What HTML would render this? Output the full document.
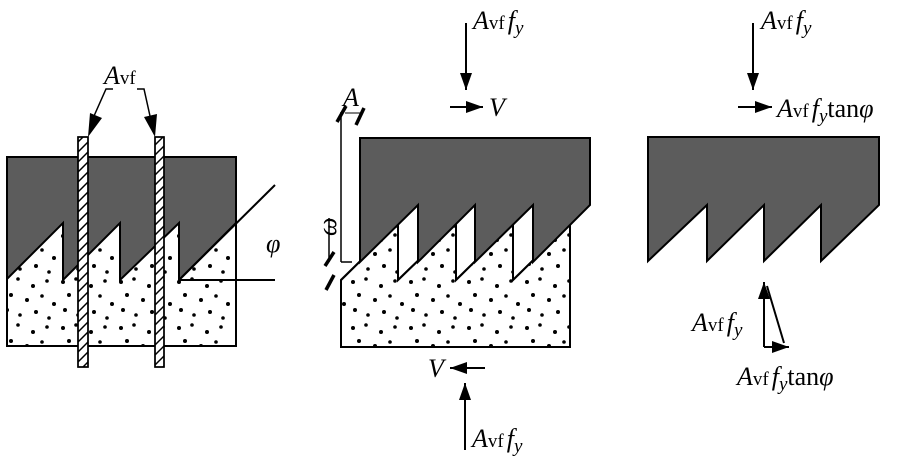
<!DOCTYPE html>
<html><head><meta charset="utf-8"><style>
body{margin:0;background:#fff}
svg{display:block}
text{font-family:"Liberation Serif",serif;font-size:26px}
.i{font-style:italic}
</style></head><body>
<svg width="897" height="463" viewBox="0 0 897 463" xmlns="http://www.w3.org/2000/svg">
<defs>
<pattern id="dots" width="58" height="46" patternUnits="userSpaceOnUse">
<g fill="#000">
<circle cx="5" cy="6" r="2"/><circle cx="18" cy="3" r="1.8"/><circle cx="33" cy="10" r="2"/>
<circle cx="47" cy="5" r="1.8"/><circle cx="11" cy="19" r="2"/><circle cx="27" cy="24" r="2"/>
<circle cx="42" cy="20" r="1.8"/><circle cx="54" cy="28" r="2"/><circle cx="7" cy="34" r="2"/>
<circle cx="20" cy="39" r="1.8"/><circle cx="36" cy="36" r="2"/><circle cx="49" cy="42" r="1.8"/>
</g></pattern>
<pattern id="hatch" width="10" height="10" patternUnits="userSpaceOnUse">
<path d="M0 10 L10 0 M-5 5 L5 -5 M5 15 L15 5" stroke="#000" stroke-width="1.5"/>
</pattern>
<marker id="ah" markerWidth="17" markerHeight="12" refX="17" refY="6" orient="auto" markerUnits="userSpaceOnUse">
<path d="M0 0 L17 6 L0 12Z" fill="#000"/></marker>
</defs>
<g stroke="#000" stroke-width="2" fill="none">

<!-- LEFT -->
<rect x="7" y="223" width="229" height="123" fill="#fff"/>
<rect x="7" y="223" width="229" height="123" fill="url(#dots)" stroke="none"/>
<path d="M7 157 H236 V223 L179 280 V223 L120 280 V223 L63 280 V223 L7 279 Z" fill="#5c5c5c"/>
<line x1="179" y1="280" x2="275" y2="185"/>
<line x1="179" y1="280" x2="275" y2="280"/>
<rect x="78" y="137" width="10" height="230" fill="#fff" stroke-width="1.5"/>
<rect x="78" y="137" width="10" height="230" fill="url(#hatch)" stroke-width="1.5"/>
<rect x="155" y="137" width="9" height="230" fill="#fff" stroke-width="1.5"/>
<rect x="155" y="137" width="9" height="230" fill="url(#hatch)" stroke-width="1.5"/>
<path d="M113 89 H106 L94 116" stroke-width="1.5"/>
<path d="M88 137 L90 113 L102 118 Z" fill="#000" stroke="none"/>
<path d="M137 89 H144 L150 116" stroke-width="1.5"/>
<path d="M155 137 L144 117 L157 114 Z" fill="#000" stroke="none"/>

<!-- MIDDLE -->
<path d="M341 280 L398 224 V280 L456 224 V280 L513 224 V280 L570 224 V347 H341 Z" fill="#fff"/>
<path d="M341 280 L398 224 V280 L456 224 V280 L513 224 V280 L570 224 V347 H341 Z" fill="url(#dots)" stroke="none"/>
<path d="M341 280 L398 224 V280 L456 224 V280 L513 224 V280 L570 224 V347 H341 Z"/>
<path d="M360 138 H590 V205 L533 262 V205 L475 262 V205 L418 262 V205 L360 262 Z" fill="#5c5c5c"/>
<line x1="341" y1="112" x2="341" y2="262" stroke-width="1.5"/>
<line x1="341" y1="262" x2="352" y2="262" stroke-width="1.5"/>
<line x1="329" y1="218" x2="329" y2="262" stroke-width="1.5"/>
<line x1="337" y1="122" x2="346" y2="106" stroke-width="3.5"/>
<line x1="356" y1="125" x2="364" y2="108" stroke-width="3.5"/>
<line x1="345" y1="113" x2="360" y2="113" stroke-width="1"/>
<line x1="325" y1="266" x2="334" y2="252" stroke-width="3.5"/>
<line x1="326" y1="290" x2="334" y2="275" stroke-width="3.5"/>

<line x1="466" y1="23" x2="466" y2="90" marker-end="url(#ah)" stroke-width="2"/>
<line x1="450" y1="107" x2="483" y2="107" marker-end="url(#ah)" stroke-width="2"/>
<line x1="485" y1="368" x2="450" y2="368" marker-end="url(#ah)" stroke-width="2"/>
<line x1="465" y1="450" x2="465" y2="383" marker-end="url(#ah)" stroke-width="2"/>

<!-- RIGHT -->
<path d="M648 137 H879 V205 L821 261 V205 L764 261 V205 L707 261 V205 L648 261 Z" fill="#5c5c5c"/>
<line x1="753" y1="23" x2="753" y2="90" marker-end="url(#ah)" stroke-width="2"/>
<line x1="738" y1="107" x2="772" y2="107" marker-end="url(#ah)" stroke-width="2"/>
<line x1="764" y1="347" x2="764" y2="282" marker-end="url(#ah)" stroke-width="2"/>
<line x1="767" y1="286" x2="784" y2="343" stroke-width="2"/>
<line x1="764" y1="347" x2="789" y2="347" marker-end="url(#ah)" stroke-width="2"/>
</g>
<g fill="#000">
<text x="104" y="84" class="i">A<tspan font-style="normal" font-size="19">vf</tspan></text>
<text x="266" y="252" class="i">φ</text>
<text x="343" y="106" class="i" font-size="28">A</text>
<text transform="translate(336,236) rotate(-90)" class="i">ω</text>
<text x="473" y="29" class="i">A<tspan font-style="normal" font-size="19">vf</tspan><tspan dx="3">f</tspan><tspan font-size="19" dy="5">y</tspan></text>
<text x="489" y="116" class="i">V</text>
<text x="428" y="377" class="i">V</text>
<text x="472" y="447" class="i">A<tspan font-style="normal" font-size="19">vf</tspan><tspan dx="3">f</tspan><tspan font-size="19" dy="5">y</tspan></text>
<text x="761" y="29" class="i">A<tspan font-style="normal" font-size="19">vf</tspan><tspan dx="3">f</tspan><tspan font-size="19" dy="5">y</tspan></text>
<text x="777" y="117" class="i">A<tspan font-style="normal" font-size="19">vf</tspan><tspan dx="3">f</tspan><tspan font-size="19" dy="5">y</tspan><tspan dy="-5" font-style="normal">tan</tspan>φ</text>
<text x="692" y="331" class="i">A<tspan font-style="normal" font-size="19">vf</tspan><tspan dx="3">f</tspan><tspan font-size="19" dy="5">y</tspan></text>
<text x="737" y="385" class="i">A<tspan font-style="normal" font-size="19">vf</tspan><tspan dx="3">f</tspan><tspan font-size="19" dy="5">y</tspan><tspan dy="-5" font-style="normal">tan</tspan>φ</text>
</g>
</svg>
</body></html>
